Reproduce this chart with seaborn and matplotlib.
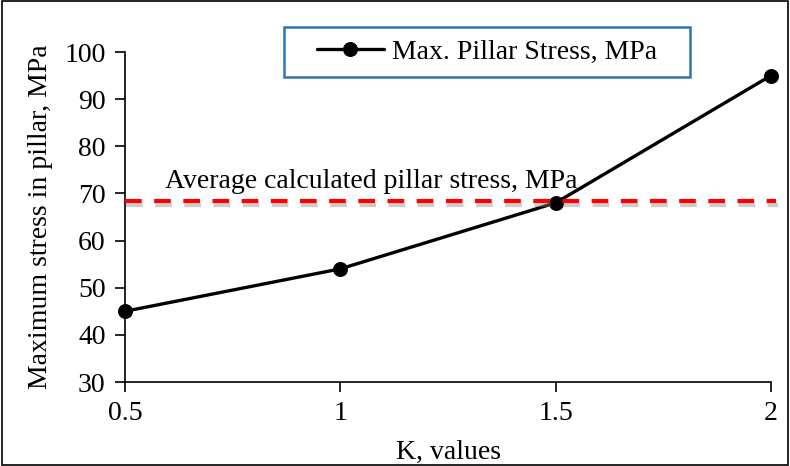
import matplotlib
matplotlib.use('Agg')
import matplotlib.pyplot as plt
import matplotlib.patheffects as pe
from matplotlib.patches import Rectangle
import pandas as pd
import seaborn as sns

# Chart data
k_values = [0.5, 1.0, 1.5, 2.0]
max_stress = [45, 54, 68, 95]
avg_stress = 68.5
series_label = 'Max. Pillar Stress, MPa'
avg_label = 'Average calculated pillar stress, MPa'
y_ticks = [30, 40, 50, 60, 70, 80, 90, 100]
x_ticks = [0.5, 1, 1.5, 2]
x_tick_labels = ['0.5', '1', '1.5', '2']

serif = ['Liberation Serif', 'DejaVu Serif']
sns.set_theme(style='white')
plt.rcParams['font.family'] = serif
plt.rcParams.update({
    'font.size': 20,
    'text.color': 'black',
    'axes.labelcolor': 'black',
    'xtick.color': 'black',
    'ytick.color': 'black',
})

df = pd.DataFrame({'K': k_values, 'stress': max_stress})

fig = plt.figure(figsize=(7.9, 4.66), dpi=100)
ax = fig.add_axes([125 / 790, 1 - 382 / 466, 646 / 790, 330 / 466])

# red dashed average line with a soft shadow
ax.axhline(avg_stress, xmin=0, xmax=1.008, color='#ff0000', linewidth=3,
           linestyle=(0, (4, 3)), zorder=4, clip_on=False,
           path_effects=[pe.SimpleLineShadow(offset=(1, -3), shadow_color='gray', alpha=0.4),
                         pe.Normal()])

sns.lineplot(data=df, x='K', y='stress', ax=ax, color='black', linewidth=2.4,
             marker='o', markersize=10, markeredgecolor='black', label=series_label,
             clip_on=False, zorder=3, legend=False)

ax.text(0.593, 69.8, avg_label, fontsize=20, family=serif, ha='left', va='bottom',
        color='black')

ax.set_xlim(0.5, 2)
ax.set_ylim(30, 100)
ax.set_xticks(x_ticks)
ax.set_xticklabels(x_tick_labels)
ax.set_yticks(y_ticks)
ax.tick_params(axis='both', which='major', direction='out', length=7, width=1.2,
               color='black', labelcolor='black', labelsize=20, pad=7,
               left=True, bottom=True)
for side in ['top', 'right']:
    ax.spines[side].set_visible(False)
for side in ['left', 'bottom']:
    ax.spines[side].set_color('black')
    ax.spines[side].set_linewidth(1.2)

ax.set_xlabel('K, values', fontsize=20, labelpad=10)
ax.set_ylabel('Maximum stress in pillar, MPa', fontsize=20, labelpad=8)

# legend box with blue frame
fig.patches.append(Rectangle((284 / 790, 1 - 77 / 466), 406 / 790, 50 / 466,
                             transform=fig.transFigure, fill=False,
                             edgecolor='#2e75b6', linewidth=1.8))
handles, labels = ax.get_legend_handles_labels()
leg = fig.legend(handles, labels, loc='center', bbox_to_anchor=(487 / 790, 1 - 52 / 466),
                 frameon=False, fontsize=20, handlelength=2.4, handletextpad=0.3)
for t in leg.get_texts():
    t.set_color('black')

# outer border of the figure
fig.patches.append(Rectangle((0.002, 0.002), 0.996, 0.996, transform=fig.transFigure,
                             fill=False, edgecolor='black', linewidth=1.2))

fig.savefig('out.png', dpi=100)
